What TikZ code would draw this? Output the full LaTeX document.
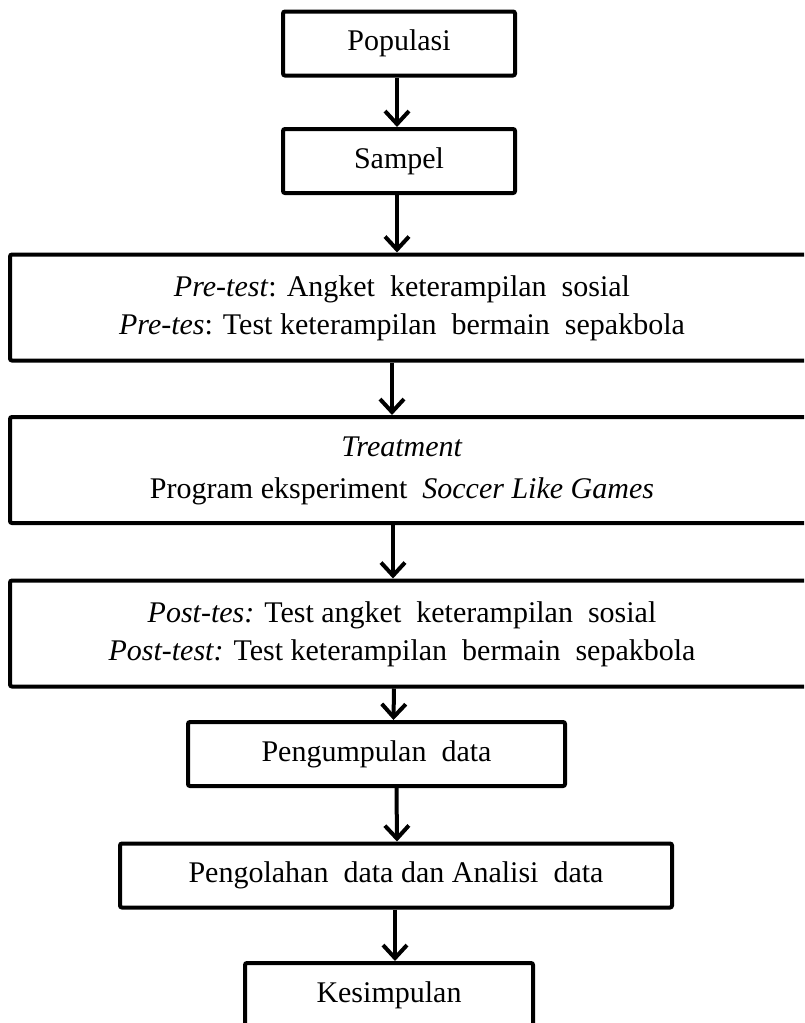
\documentclass[tikz,border=0pt]{standalone}
\usepackage{fontspec}
\setmainfont{Liberation Serif}
\usetikzlibrary{arrows.meta}
\tikzset{
  box/.style={draw, line width=4pt, rounded corners=2pt, minimum height=64pt, inner sep=0pt, font=\fontsize{30}{38}\selectfont, fill=white},
  widebox/.style={box, minimum width=820pt, minimum height=106pt},
  flow/.style={-{Straight Barb[length=13pt,width=24pt]}, line width=4pt}
}
\begin{document}
\begin{tikzpicture}[x=1pt,y=-1pt]
  \useasboundingbox (0,0) rectangle (804,1023);
  \clip (0,0) rectangle (804,1023);
  % small boxes on top
  \node[box,minimum width=232pt] (pop) at (399,43.5) {Populasi};
  \node[box,minimum width=232pt] (sam) at (399,161) {Sampel};
  % wide boxes, running off the right edge
  \node[widebox] (pre) at (420,307.5) {\begin{tabular}{@{}c@{}}
    \textit{Pre-test}: Angket~~keterampilan~~sosial\\
    \textit{Pre-tes}: Test keterampilan~~bermain~~sepakbola\end{tabular}\hspace{36pt}\null};
  \node[widebox] (treat) at (420,470) {\begin{tabular}{@{}c@{}}
    \textit{Treatment}\\[4pt]
    Program eksperiment~~\textit{Soccer Like Games}\end{tabular}\hspace{36pt}\null};
  \node[widebox] (post) at (420,633.5) {\begin{tabular}{@{}c@{}}
    \textit{Post-tes:} Test angket~~keterampilan~~sosial\\
    \textit{Post-test:} Test keterampilan~~bermain~~sepakbola\end{tabular}\hspace{36pt}\null};
  % lower boxes
  \node[box,minimum width=377pt] (kumpul) at (376.5,754) {Pengumpulan~~data};
  \node[box,minimum width=552pt] (olah) at (396,875.5) {Pengolahan~~data dan Analisi~~data};
  \node[box,minimum width=288pt] (simpul) at (389,995) {Kesimpulan};
  % arrows
  \draw[flow] ([xshift=-2pt]pop.south) -- ([xshift=-2pt]sam.north);
  \draw[flow] ([xshift=-2pt]sam.south) -- ([xshift=-23pt]pre.north);
  \draw[flow] ([xshift=-28pt]pre.south) -- ([xshift=-28pt]treat.north);
  \draw[flow] ([xshift=-27pt]treat.south) -- ([xshift=-27pt]post.north);
  \draw[flow] ([xshift=-26pt]post.south) -- ([xshift=17pt]kumpul.north);
  \draw[flow] ([xshift=20pt]kumpul.south) -- ([xshift=1pt]olah.north);
  \draw[flow] ([xshift=-1pt]olah.south) -- ([xshift=6pt]simpul.north);
\end{tikzpicture}
\end{document}
